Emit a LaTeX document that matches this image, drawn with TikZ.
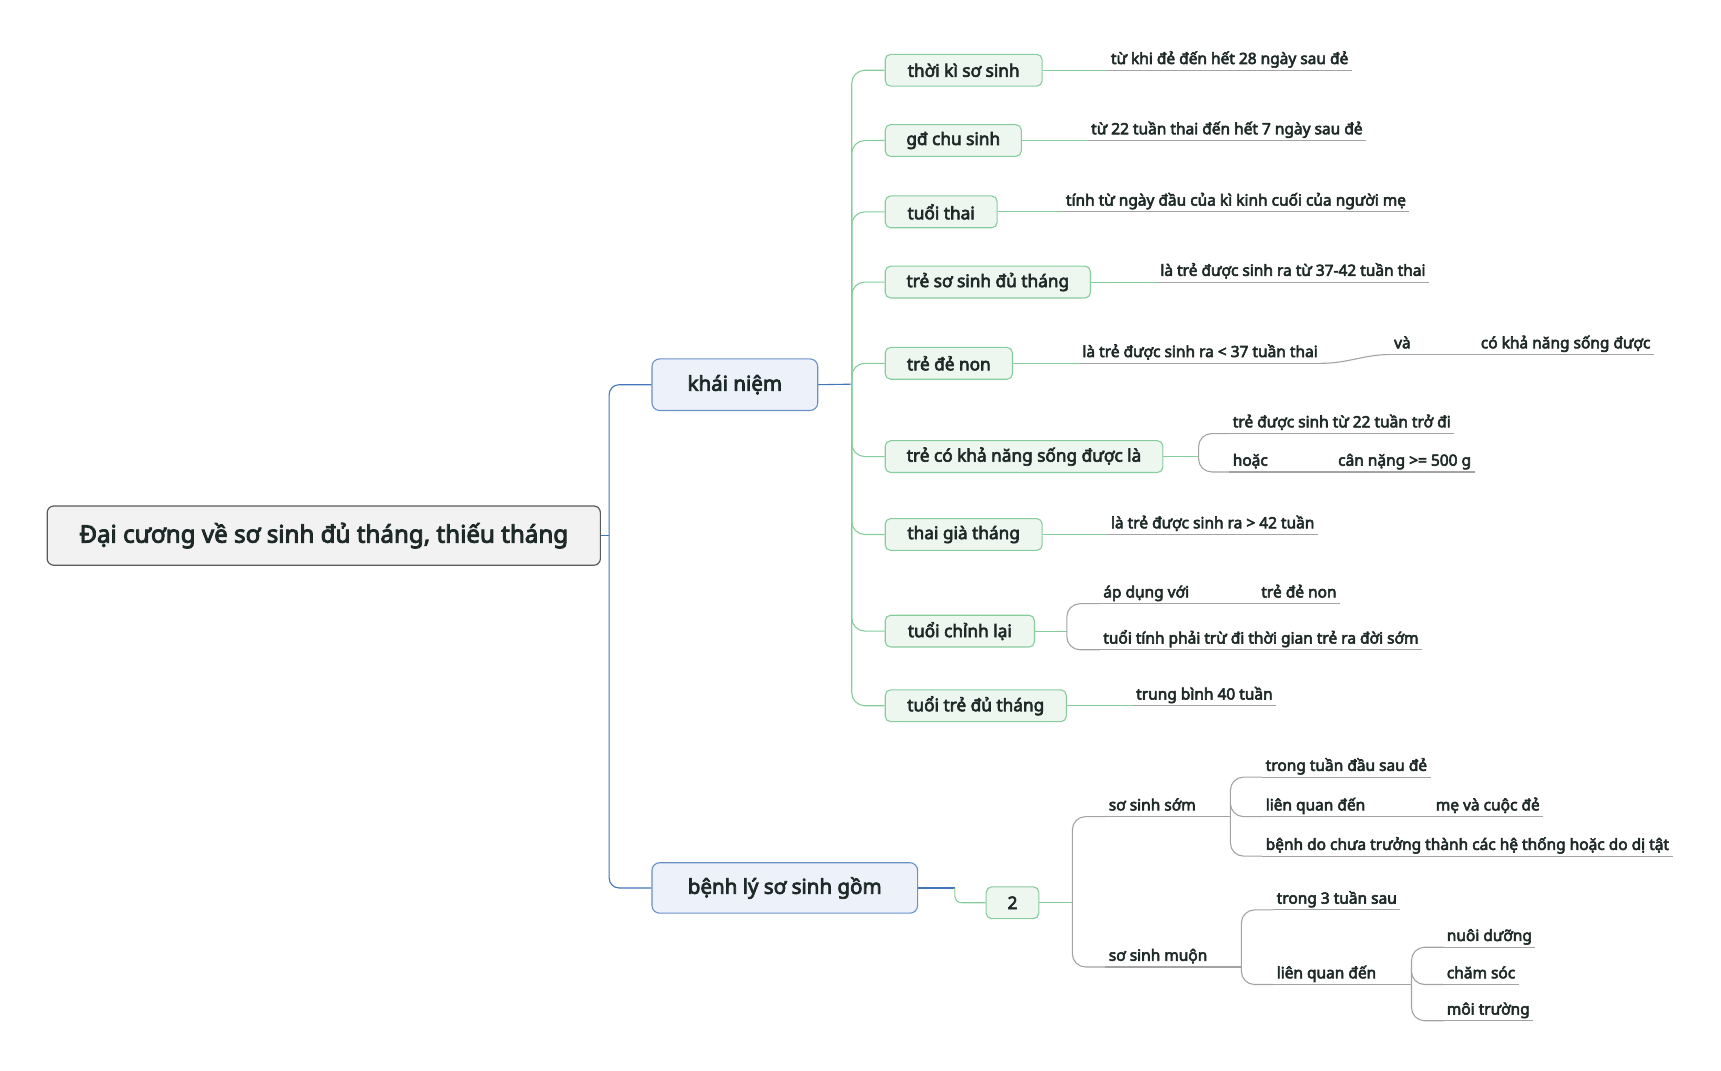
\documentclass[tikz,border=0pt]{standalone}
\usepackage{fontspec}
\setmainfont{Noto Sans}[AutoFakeBold=3.6]
\usetikzlibrary{calc}
\definecolor{ink}{HTML}{1E2A28}
\definecolor{rootline}{HTML}{5A5A5A}
\definecolor{rootfill}{HTML}{F2F2F2}
\definecolor{blueline}{HTML}{4275BA}
\definecolor{bluefill}{HTML}{EDF2FA}
\definecolor{greenline}{HTML}{86CC9C}
\definecolor{greenfill}{HTML}{EEF6F0}
\definecolor{greyline}{HTML}{A3A3A3}
\tikzset{
  rootbox/.style={draw=rootline,fill=rootfill,rounded corners=6pt,line width=1.1pt,
    inner sep=0pt,text=ink,font=\bfseries\fontsize{22}{25}\selectfont},
  topbox/.style={draw=blueline!80,fill=bluefill,rounded corners=7pt,line width=1pt,
    inner sep=0pt,text=ink,font=\bfseries\fontsize{18.7}{21}\selectfont},
  subbox/.style={draw=greenline,fill=greenfill,rounded corners=5pt,line width=1pt,
    anchor=west,minimum height=29pt,inner sep=0pt,text=ink,
    font=\bfseries\fontsize{15.7}{18}\selectfont},
  leaf/.style={anchor=south west,inner xsep=3pt,inner ysep=1.5pt,text=ink,
    text height=11pt,text depth=4pt,font=\bfseries\fontsize{14.1}{16}\selectfont},
  bl/.style={blueline,line width=1pt},
  gl/.style={greenline,line width=1pt},
  ln/.style={greyline,line width=1pt},
  rc/.style={rounded corners=12pt}
}
\begin{document}
\begin{tikzpicture}[x=1pt,y=-1pt]
\useasboundingbox (0,0) rectangle (1568,975);
% main topics
\node[rootbox,minimum width=504pt,minimum height=54pt] (root) at (295,488) {Đại cương về sơ sinh đủ tháng, thiếu tháng};
\node[topbox,minimum width=151pt,minimum height=47pt] (kn) at (669.5,350.5) {khái niệm};
\node[topbox,minimum width=242pt,minimum height=46pt] (bn) at (715,809) {bệnh lý sơ sinh gồm};
\coordinate (j0) at (555,488);
\draw[bl] (root.east) -- (j0);
\draw[bl,rounded corners=9pt] (j0) |- (kn.west) (j0) |- (bn.west);
% khai niem
\node[subbox,minimum width=143pt] (t1) at (806,64) {thời kì sơ sinh};
\node[subbox,minimum width=124pt] (t2) at (806,128) {gđ chu sinh};
\node[subbox,minimum width=102pt] (t3) at (806,193) {tuổi thai};
\node[subbox,minimum width=187pt] (t4) at (806,257) {trẻ sơ sinh đủ tháng};
\node[subbox,minimum width=116pt] (t5) at (806,331) {trẻ đẻ non};
\node[subbox,minimum width=253pt] (t6) at (806,416) {trẻ có khả năng sống được là};
\node[subbox,minimum width=143pt] (t7) at (806,487) {thai già tháng};
\node[subbox,minimum width=136pt] (t8) at (806,575) {tuổi chỉnh lại};
\node[subbox,minimum width=165pt] (t9) at (806,643) {tuổi trẻ đủ tháng};
\coordinate (j1) at (776,350);
\draw[bl] (kn.east) -- (j1);
\foreach \t in {t1,t2,t3,t4,t5,t6,t7,t8,t9}
  \draw[gl,rc] (j1) |- (\t.west);
% leaves
\node[leaf] (l1) at (1009,64) {từ khi đẻ đến hết 28 ngày sau đẻ};
\node[leaf] (l2) at (991,128) {từ 22 tuần thai đến hết 7 ngày sau đẻ};
\node[leaf] (l3) at (968,193) {tính từ ngày đầu của kì kinh cuối của người mẹ};
\node[leaf] (l4) at (1054,257) {là trẻ được sinh ra từ 37-42 tuần thai};
\node[leaf] (l5) at (983,331) {là trẻ được sinh ra < 37 tuần thai};
\node[leaf] (l5a) at (1267,323) {và};
\node[leaf] (l5b) at (1346,323) {có khả năng sống được};
\node[leaf] (l6a) at (1120,395) {trẻ được sinh từ 22 tuần trở đi};
\node[leaf] (l6b) at (1120,430) {hoặc};
\node[leaf] (l6c) at (1216,430) {cân nặng >= 500 g};
\node[leaf] (l7) at (1009,487) {là trẻ được sinh ra > 42 tuần};
\node[leaf] (l8a) at (1002,550) {áp dụng với};
\node[leaf] (l8b) at (1146,550) {trẻ đẻ non};
\node[leaf] (l8c) at (1002,592) {tuổi tính phải trừ đi thời gian trẻ ra đời sớm};
\node[leaf] (l9) at (1032,643) {trung bình 40 tuần};
\foreach \a/\b in {t1/l1,t2/l2,t3/l3,t4/l4,t5/l5,t7/l7,t9/l9}
  \draw[gl] (\a.east) -- (\b.south west);
\draw[ln] (l5.south east) to[out=0,in=180] (l5a.south west);
\draw[ln] (l5a.south east) -- (l5b.south west);
\coordinate (j7) at (1092,416);
\draw[gl] (t6.east) -- (j7);
\draw[ln,rc] (j7) |- (l6a.south west) (j7) |- (l6b.south west);
\draw[ln] (l6b.south east) -- (l6c.south west);
\coordinate (j8) at (972,575);
\draw[gl] (t8.east) -- (j8);
\draw[ln,rc] (j8) |- (l8a.south west) (j8) |- (l8c.south west);
\draw[ln] (l8a.south east) -- (l8b.south west);
% benh ly
\node[subbox,minimum width=48pt] (n2) at (898,822.5) {2};
\coordinate (j2) at (870,809);
\draw[bl] (bn.east) -- (j2);
\draw[gl,rounded corners=6pt] (j2) |- (n2.west);
\node[leaf] (b1) at (1007,744) {sơ sinh sớm};
\node[leaf] (b2) at (1007,881) {sơ sinh muộn};
\node[leaf] (b1a) at (1150,708) {trong tuần đầu sau đẻ};
\node[leaf] (b1b) at (1150,744) {liên quan đến};
\node[leaf] (b1c) at (1305,744) {mẹ và cuộc đẻ};
\node[leaf] (b1d) at (1150,780) {bệnh do chưa trưởng thành các hệ thống hoặc do dị tật};
\node[leaf] (b2a) at (1160,829) {trong 3 tuần sau};
\node[leaf] (b2b) at (1160,897) {liên quan đến};
\node[leaf] (b2c) at (1315,863) {nuôi dưỡng};
\node[leaf] (b2d) at (1315,897) {chăm sóc};
\node[leaf] (b2e) at (1315,930) {môi trường};
\coordinate (j3) at (977,822.5);
\coordinate (j4) at (1121,744);
\coordinate (j5) at (1131,881);
\coordinate (j6) at (1286,897);
\draw[gl] (n2.east) -- (j3);
\draw[ln,rc] (j3) |- (b1.south west) (j3) |- (b2.south west);
\draw[ln] (b1.south east) -- (j4);
\draw[ln,rc] (j4) |- (b1a.south west) (j4) |- (b1b.south west) (j4) |- (b1d.south west);
\draw[ln] (b1b.south east) -- (b1c.south west);
\draw[ln] (b2.south east) -- (j5);
\draw[ln,rc] (j5) |- (b2a.south west) (j5) |- (b2b.south west);
\draw[ln] (b2b.south east) -- (j6);
\draw[ln,rc] (j6) |- (b2c.south west) (j6) |- (b2d.south west) (j6) |- (b2e.south west);
% underlines
\foreach \n in {l1,l2,l3,l4,l5,l5a,l5b,l6a,l6b,l6c,l7,l8a,l8b,l8c,l9,b1,b2,b1a,b1b,b1c,b1d,b2a,b2b,b2c,b2d,b2e}
  \draw[ln] (\n.south west) -- (\n.south east);
\end{tikzpicture}
\end{document}
